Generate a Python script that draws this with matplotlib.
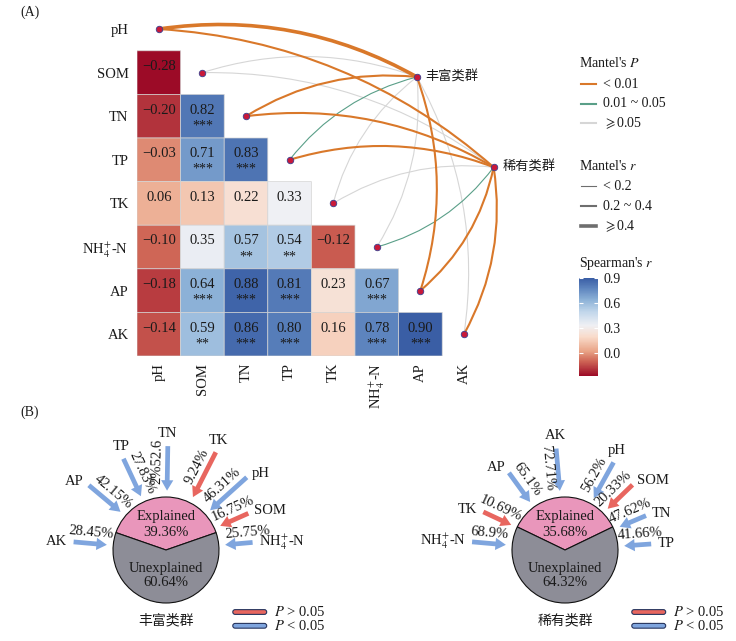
import numpy as np
import matplotlib
matplotlib.use("Agg")
import matplotlib.pyplot as plt
from matplotlib.colors import LinearSegmentedColormap, Normalize
from matplotlib.cm import ScalarMappable
from matplotlib.patches import FancyArrowPatch, FancyBboxPatch

plt.rcParams["font.family"] = ["Liberation Serif", "Noto Sans CJK SC"]
plt.rcParams["mathtext.fontset"] = "stix"
plt.rcParams["font.size"] = 10
TXT = "#1a1a1a"
CJK = "Noto Sans CJK SC"

# === Spearman correlations among soil variables (lower triangle) ===
env_labels = ["pH", "SOM", "TN", "TP", "TK", r"NH$_4^{+}$-N", "AP", "AK"]
rho_rows = [
    [],
    [-0.28],
    [-0.20, 0.82],
    [-0.03, 0.71, 0.83],
    [0.06, 0.13, 0.22, 0.33],
    [-0.10, 0.35, 0.57, 0.54, -0.12],
    [-0.18, 0.64, 0.88, 0.81, 0.23, 0.67],
    [-0.14, 0.59, 0.86, 0.80, 0.16, 0.78, 0.90],
]
star_rows = [
    [],
    [""],
    ["", "***"],
    ["", "***", "***"],
    ["", "", "", ""],
    ["", "", "**", "**", ""],
    ["", "***", "***", "***", "", "***"],
    ["", "**", "***", "***", "", "***", "***"],
]

# === Mantel tests, one entry per soil variable ===
mantel_groups = ["丰富类群", "稀有类群"]
abund_p = ["<0.01", ">=0.05", "<0.01", "0.01-0.05", ">=0.05", ">=0.05", "<0.01", ">=0.05"]
abund_r = [">=0.4", "<0.2", "0.2-0.4", "<0.2", "<0.2", "<0.2", "0.2-0.4", "<0.2"]
rare_p = ["<0.01", ">=0.05", "<0.01", "<0.01", ">=0.05", "0.01-0.05", "<0.01", "<0.01"]
rare_r = ["0.2-0.4", "<0.2", "0.2-0.4", "0.2-0.4", "<0.2", "<0.2", "0.2-0.4", "0.2-0.4"]

# === Variance explained pies ===
abund_explained = 39.36
abund_vars = ["AK", "AP", "TP", "TN", "TK", "pH", "SOM", r"NH$_4^{+}$-N"]
abund_pct = ["28.45%", "42.15%", "27.83%", "2%52.6", "9.24%", "46.31%", "16.75%", "25.75%"]
abund_sig = [True, True, True, True, False, True, False, True]
rare_explained = 35.68
rare_vars = [r"NH$_4^{+}$-N", "TK", "AP", "AK", "pH", "SOM", "TN", "TP"]
rare_pct = ["68.9%", "10.69%", "65.1%", "72.71%", "56.2%", "20.33%", "47.62%", "41.66%"]
rare_sig = [True, False, True, True, True, False, True, True]

# arrow layout around each pie: angle (deg), tail radius (pie radii),
# and where the percentage sits along the arrow (0 = tip, 1 = tail)
abund_ang = [175, 140, 115, 89, 63, 42, 24, 5]
abund_len = [1.75, 1.9, 1.9, 1.96, 2.07, 2.05, 1.7, 1.64]
abund_frac = [0.5, 0.45, 0.5, 0.66, 0.58, 0.52, 0.62, 0.85]
rare_ang = [175, 155, 126, 95, 61, 44, 23, 4]
rare_len = [1.76, 1.70, 1.80, 1.92, 1.89, 1.77, 1.66, 1.63]
rare_frac = [0.5, 0.53, 0.55, 0.55, 0.5, 0.52, 0.55, 0.63]

# === Styles ===
cmap_anchors = [(-0.28, "#9c0b27"), (-0.10, "#cf6656"), (0.02, "#e9a487"),
                (0.19, "#f9dbca"), (0.33, "#eff0f4"), (0.50, "#bfd5ea"),
                (0.64, "#8cb1d7"), (0.78, "#5d84be"), (0.90, "#3a5ea5")]
vmin, vmax = -0.28, 0.90
cmap = LinearSegmentedColormap.from_list(
    "rdbu_soft", [((v - vmin) / (vmax - vmin), c) for v, c in cmap_anchors])
norm = Normalize(vmin, vmax)

p_color = {"<0.01": "#d9782a", "0.01-0.05": "#5a9f88", ">=0.05": "#d6d6d6"}
p_z = {">=0.05": 2, "0.01-0.05": 3, "<0.01": 4}
r_width = {"<0.2": 0.8, "0.2-0.4": 1.5, ">=0.4": 2.6}
BLUE, RED = "#7fa5de", "#e8665f"

W, H = 736, 641
fig = plt.figure(figsize=(W / 100, H / 100), dpi=100)


def px_axes(x0, y0, x1, y1):
    return fig.add_axes([x0 / W, 1 - y1 / H, (x1 - x0) / W, (y1 - y0) / H])


overlay = px_axes(0, 0, W, H)
overlay.set_xlim(0, W)
overlay.set_ylim(H, 0)
overlay.axis("off")

# === (A) heatmap + Mantel links ===
ax = px_axes(137, 7.2, 529.4, 356)
n = len(env_labels)
rho = np.full((n, n), np.nan)
for i, row in enumerate(rho_rows):
    rho[i, :len(row)] = row
edges = np.arange(n + 1) - 0.5
ax.pcolor(edges, edges, np.ma.masked_invalid(rho), cmap=cmap, norm=norm,
          edgecolors="#d4d4d4", linewidth=0.5)
for i, row in enumerate(rho_rows):
    for j, v in enumerate(row):
        ax.text(j, i - 0.14, f"{v:.2f}".replace("-", "\u2212"), ha="center", va="center",
                fontsize=10.5, color=TXT)
        if star_rows[i][j]:
            ax.text(j, i + 0.22, star_rows[i][j], ha="center", va="center",
                    fontsize=10, color=TXT)

ax.set_xlim(-0.5, 8.5)
ax.set_ylim(7.5, -0.5)
ax.set_xticks(range(n))
ax.set_xticklabels(env_labels, rotation=90)
ax.set_yticks(range(n))
ax.set_yticklabels(env_labels)
ax.tick_params(length=0, labelsize=10.5, labelcolor=TXT)
ax.tick_params(axis="y", pad=6)
ax.tick_params(axis="x", pad=5)
for s in ax.spines.values():
    s.set_visible(False)

hub_pos = [(5.92, 1.10), (7.68, 3.17)]
for (hx, hy), ps, rs in zip(hub_pos, [abund_p, rare_p], [abund_r, rare_r]):
    for i, (p, r) in enumerate(zip(ps, rs)):
        rad = -0.17 if i < 5 else 0.17
        link = FancyArrowPatch((i, i), (hx, hy), arrowstyle="-",
                               connectionstyle=f"arc3,rad={rad}",
                               color=p_color[p], lw=r_width[r],
                               shrinkA=0, shrinkB=0, zorder=p_z[p], clip_on=False)
        ax.add_patch(link)
ax.scatter(range(n), range(n), s=22, color="#c8193a", edgecolor="#3a3f8f",
           linewidth=0.6, zorder=6, clip_on=False)
ax.scatter([h[0] for h in hub_pos], [h[1] for h in hub_pos], s=22, color="#c8193a",
           edgecolor="#3a3f8f", linewidth=0.6, zorder=6, clip_on=False)
for (hx, hy), name in zip(hub_pos, mantel_groups):
    ax.text(hx + 0.2, hy, name, ha="left", va="center", fontsize=9.5,
            family=CJK, color=TXT)

# legends of panel A
overlay.text(579, 63, "Mantel's $P$", va="center", fontsize=10, color=TXT)
for k, (lab, key) in enumerate(zip(["< 0.01", "0.01 ~ 0.05", r"$\geqslant$0.05"],
                                   ["<0.01", "0.01-0.05", ">=0.05"])):
    y = 84 + 19.7 * k
    overlay.plot([581, 596], [y, y], color=p_color[key], lw=1.5)
    overlay.text(603, y, lab, va="center", fontsize=10, color=TXT)
overlay.text(579, 166, "Mantel's $r$", va="center", fontsize=10, color=TXT)
for k, (lab, key) in enumerate(zip(["< 0.2", "0.2 ~ 0.4", r"$\geqslant$0.4"],
                                   ["<0.2", "0.2-0.4", ">=0.4"])):
    y = 186 + 20 * k
    overlay.plot([581, 596], [y, y], color="#6e6e6e", lw=r_width[key])
    overlay.text(603, y, lab, va="center", fontsize=10, color=TXT)
overlay.text(579, 263, "Spearman's $r$", va="center", fontsize=10, color=TXT)

cax = px_axes(579, 278, 598, 376)
cb = fig.colorbar(ScalarMappable(norm=norm, cmap=cmap), cax=cax, ticks=[0, 0.3, 0.6, 0.9])
cb.outline.set_visible(False)
cb.ax.set_yticklabels(["0.0", "0.3", "0.6", "0.9"])
cax.tick_params(axis="y", direction="in", length=3, width=0.8, color="white",
                labelsize=10, labelcolor=TXT, pad=4, left=True)

overlay.text(30, 12, "(A)", ha="center", va="center", fontsize=10, color=TXT)
overlay.text(30, 412, "(B)", ha="center", va="center", fontsize=10, color=TXT)


# === (B) variance explained pies ===
def draw_pie(ax, explained, names, pcts, sig, angs, lens, fracs, group):
    span = explained * 3.6
    ax.pie([explained, 100 - explained], startangle=90 - span / 2, counterclock=True,
           colors=["#e996bb", "#8d8d97"], radius=1, center=(0, 0),
           wedgeprops=dict(edgecolor="#111111", linewidth=0.8))
    ax.text(0, 0.64, "Explained", ha="center", va="center", fontsize=10.5, color=TXT)
    ax.text(0, 0.33, f"{explained:.2f}%", ha="center", va="center", fontsize=10.5, color=TXT)
    ax.text(0, -0.34, "Unexplained", ha="center", va="center", fontsize=10.5, color=TXT)
    ax.text(0, -0.62, f"{100 - explained:.2f}%", ha="center", va="center",
            fontsize=10.5, color=TXT)
    tip_r = 1.12
    for name, pct, ok, a, L, fr in zip(names, pcts, sig, angs, lens, fracs):
        c, s = np.cos(np.radians(a)), np.sin(np.radians(a))
        ax.annotate("", xy=(tip_r * c, tip_r * s), xytext=(L * c, L * s),
                    arrowprops=dict(arrowstyle="simple,head_length=0.75,head_width=0.88,tail_width=0.34",
                                    fc=BLUE if ok else RED, ec="none", mutation_scale=10,
                                    shrinkA=0, shrinkB=0))
        # percentage alongside the arrow
        mid = tip_r + fr * (L - tip_r)
        if a <= 100:
            perp = (-s, c)
        else:
            perp = (s, -c)
        rot = a if a <= 90 else a - 180
        off = 0.2
        ax.text(mid * c + off * perp[0], mid * s + off * perp[1], pct,
                rotation=rot, rotation_mode="anchor", ha="center", va="center",
                fontsize=10.5, color=TXT)
        # variable name beyond the tail
        lr = L + 0.12
        ha = "left" if c > 0.5 else ("right" if c < -0.5 else "center")
        va = "bottom" if s > 0.85 else "center"
        ax.text(lr * c, lr * s, name, ha=ha, va=va, fontsize=10.5, color=TXT)
    ax.text(0, -1.32, group, ha="center", va="center", fontsize=10, family=CJK, color=TXT)
    for y, ok, lab in [(-1.17, False, "$P$ > 0.05"), (-1.43, True, "$P$ < 0.05")]:
        ax.add_patch(FancyBboxPatch((1.26, y - 0.045), 0.64, 0.09,
                                    boxstyle="round,pad=0,rounding_size=0.045",
                                    fc=BLUE if ok else RED, ec="#27355e", lw=0.8))
        ax.text(2.03, y, lab, ha="left", va="center", fontsize=10.5, color=TXT)


R = 53.0
for (x0, x1, cx), args in zip(
        [(0, 360, 166), (370, 736, 565)],
        [(abund_explained, abund_vars, abund_pct, abund_sig, abund_ang, abund_len,
          abund_frac, mantel_groups[0]),
         (rare_explained, rare_vars, rare_pct, rare_sig, rare_ang, rare_len,
          rare_frac, mantel_groups[1])]):
    pax = px_axes(x0, 405, x1, 641)
    draw_pie(pax, *args)
    pax.set_aspect("equal")
    pax.set_xlim((x0 - cx) / R, (x1 - cx) / R)
    pax.set_ylim(-(641 - 550) / R, (550 - 405) / R)
    pax.axis("off")

fig.savefig("out.png", dpi=100)
